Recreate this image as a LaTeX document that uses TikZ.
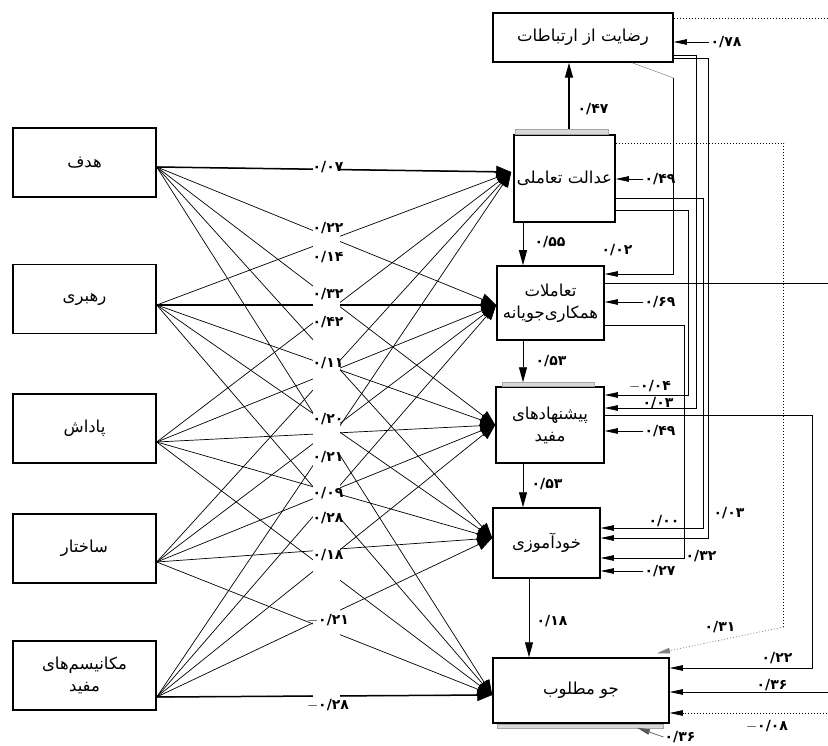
\documentclass[tikz,border=0pt]{standalone}
\usepackage{fontspec}
\newfontfamily\fa[Script=Arabic]{DejaVu Sans}
\TeXXeTstate=1
\usetikzlibrary{arrows.meta}
\newcommand{\fatxt}[1]{\beginR #1\endR}
\newcommand{\menos}{\mbox{$-$}}

\tikzset{
  caja/.style={draw, line width=1.5pt, align=center, inner sep=2pt,
    font=\fa\fontsize{16.5}{22}\selectfont},
  coef/.style={font=\fa\bfseries\fontsize{14}{16}\selectfont, inner sep=1pt},
  abanico/.style={line width=0.7pt, -{Triangle[length=15pt,width=12pt]}},
  flecha/.style={line width=0.7pt, -{Triangle[length=13pt,width=5.5pt]}},
  vert/.style={line width=0.9pt, -{Triangle[length=15pt,width=8pt]}},
  barra/.style={fill=gray!30, draw=gray!70, line width=0.4pt},
  punteado/.style={line width=0.7pt, dash pattern=on 1pt off 2pt}
}

\begin{document}
\begin{tikzpicture}[x=1pt, y=-1pt]
  \useasboundingbox (0,0) rectangle (828,746);
  \clip (0,0) rectangle (828,746);

  % Variables exogenas
  \foreach \nombre/\y/\texto in {hadaf/162.5/{\fatxt{هدف}},
      rahbari/299/{\fatxt{رهبری}}, padash/428.5/{\fatxt{پاداش}},
      sakhtar/548.5/{\fatxt{ساختار}},
      mekanism/675.5/{\fatxt{مکانیسم^^^^200cهای}\\\fatxt{مفید}}} {
    \node[caja, minimum width=143, minimum height=69] (\nombre) at (84.5,\y) {\texto};
  }

  % Variables endogenas
  \node[caja, minimum width=180, minimum height=49] (rezayat) at (583,37.5) {\fatxt{رضایت از ارتباطات}};
  \node[caja, minimum width=101, minimum height=87] (edalat) at (564.5,178.5) {\fatxt{عدالت تعاملی}};
  \node[caja, minimum width=107, minimum height=74] (taamolat) at (550.5,303) {\fatxt{تعاملات}\\\fatxt{همکاری^^^^200cجویانه}};
  \node[caja, minimum width=108, minimum height=76] (pishnahad) at (550,425) {\fatxt{پیشنهادهای}\\\fatxt{مفید}};
  \node[caja, minimum width=107, minimum height=70] (khodamuzi) at (546.5,543) {\fatxt{خودآموزی}};
  \node[caja, minimum width=176, minimum height=65] (jav) at (581,690.5) {\fatxt{جو مطلوب}};

  % Barras grises
  \draw[barra] ([xshift=2pt]edalat.north west) rectangle ([xshift=-8pt,yshift=5pt]edalat.north east);
  \draw[barra] ([xshift=7pt]pishnahad.north west) rectangle ([xshift=-11pt,yshift=4pt]pishnahad.north east);
  \draw[barra] ([xshift=5pt]jav.south west) rectangle ([xshift=-7pt,yshift=-4pt]jav.south east);

  % Puntos de salida y de llegada
  \coordinate (o1) at ([yshift=-4.5pt]hadaf.east);
  \coordinate (o2) at ([yshift=-6pt]rahbari.east);
  \coordinate (o3) at ([yshift=-13.5pt]padash.east);
  \coordinate (o4) at ([yshift=-13.5pt]sakhtar.east);
  \coordinate (o5) at ([yshift=-21.5pt]mekanism.east);
  \coordinate (t1) at ([xshift=-2pt,yshift=6.5pt]edalat.west);
  \coordinate (t2) at ([yshift=-2pt]taamolat.west);
  \coordinate (t3) at (pishnahad.west);
  \coordinate (t4) at ([yshift=5pt]khodamuzi.west);
  \coordinate (t5) at ([yshift=-4.5pt]jav.west);

  % Efectos directos
  \foreach \i in {1,...,5} {
    \foreach \j in {1,...,5} {
      \draw[abanico] (o\i) -- (t\j);
    }
  }
  \foreach \i in {1,2,5} {
    \draw[line width=1.5pt, shorten >=8pt] (o\i) -- (t\i);
  }

  % Franja de los coeficientes
  \fill[white] (313,158) rectangle (340,712);
  \foreach \y/\v [count=\k] in {167/{۰/۰۷}, 228/{۰/۲۲}, 257/{۰/۱۴}, 294/{۰/۳۲},
      322/{۰/۴۲}, 363/{۰/۱۱}, 419/{۰/۲۰}, 457/{۰/۲۱}, 493/{۰/۰۹}, 518/{۰/۲۸},
      555/{۰/۱۸}, 620/{\menos۰/۲۱}, 705/{\menos۰/۲۸}} {
    \node[coef] (c\k) at (328,\y) {\v};
  }

  % Camino vertical
  \coordinate (v0) at ([xshift=4.5pt,yshift=5pt]edalat.north);
  \draw[vert, line width=1.4pt] (v0) -- (v0 |- rezayat.south);
  \coordinate (v1) at ([xshift=-41.5pt]edalat.south);
  \draw[vert] (v1) -- (v1 |- taamolat.north);
  \coordinate (v2) at ([xshift=-27.5pt]taamolat.south);
  \draw[vert] (v2) -- ([yshift=4pt]v2 |- pishnahad.north);
  \coordinate (v3) at ([xshift=-27pt]pishnahad.south);
  \draw[vert] (v3) -- (v3 |- khodamuzi.north);
  \coordinate (v4) at ([xshift=-17.5pt]khodamuzi.south);
  \draw[vert] (v4) -- (v4 |- jav.north);
  \node[coef] (k1) at (593,109) {۰/۴۷};
  \node[coef] (k2) at (550,242) {۰/۵۵};
  \node[coef] (k3) at (551,361) {۰/۵۳};
  \node[coef] (k4) at (547,484) {۰/۵۳};
  \node[coef] (k5) at (552,621) {۰/۱۸};

  % Errores
  \node[coef] (erez) at (726,42) {۰/۷۸};
  \node[coef] (eeda) at (660,179) {۰/۴۹};
  \node[coef] (etaa) at (660,302) {۰/۶۹};
  \node[coef] (epis) at (660,431) {۰/۴۹};
  \node[coef] (ekho) at (660,571) {۰/۲۷};
  \node[coef] (ejav) at (680,737) {۰/۳۶};
  \draw[flecha] (erez.west) -- ([yshift=-4.5pt]rezayat.east);
  \draw[flecha] (eeda.west) -- ([yshift=-0.5pt]edalat.east);
  \draw[flecha] (etaa.west) -- ([yshift=1pt]taamolat.east);
  \draw[flecha] (epis.west) -- ([yshift=-6pt]pishnahad.east);
  \draw[flecha] (ekho.west) -- ([yshift=-28pt]khodamuzi.east);
  \draw[flecha, gray!70!black] (ejav.west) -- ([xshift=56pt,yshift=-4pt]jav.south);

  % Caminos de la derecha
  \draw[gray, line width=0.5pt] ([xshift=49pt]rezayat.south) -- ++(41,15) coordinate (q1);
  \draw[flecha] (q1) |- ([yshift=29pt]taamolat.east);
  \draw[flecha] ([yshift=-17.5pt]rezayat.east) -- ++(23,0) |- ([yshift=17pt]pishnahad.east);
  \draw[flecha] ([yshift=-20.5pt]rezayat.east) -- ++(35,0) |- ([yshift=5pt]khodamuzi.east);
  \draw[flecha] ([yshift=-19.5pt]edalat.east) -- ++(88,0) |- ([yshift=15pt]khodamuzi.east);
  \draw[flecha] ([yshift=-31.5pt]edalat.east) -- ++(73,0) |- ([yshift=30pt]pishnahad.east);
  \draw[flecha] ([yshift=-22pt]taamolat.east) -- ++(80,0) |- ([yshift=-15pt]khodamuzi.east);
  \draw[flecha] ([yshift=20pt]taamolat.east) -- ++(240,0) |- ([yshift=-1.5pt]jav.east);
  \draw[flecha] ([yshift=10pt]pishnahad.east) -- ++(208,0) |- ([yshift=22.5pt]jav.east);
  \draw[punteado] ([yshift=35.5pt]edalat.east) -- ++(168,0) -- ++(0,484) coordinate (q2);
  \draw[punteado, gray, -{Triangle[length=13pt,width=5.5pt]}] (q2) -- ([xshift=76pt,yshift=4pt]jav.north);
  \draw[punteado, -{Triangle[length=13pt,width=5.5pt]}] ([yshift=19.5pt]rezayat.east) -- ++(170,0) |- ([yshift=-22.5pt]jav.east);
  \node[coef] (d1) at (617,250) {۰/۰۲};
  \node[coef] (d2) at (658,403) {۰/۰۳};
  \node[coef] (d3) at (729,513) {۰/۰۳};
  \node[coef] (d4) at (664,521) {۰/۰۰};
  \node[coef] (d5) at (650,386) {\menos۰/۰۴};
  \node[coef] (d6) at (701,556) {۰/۳۲};
  \node[coef] (d7) at (720,627) {۰/۳۱};
  \node[coef] (d8) at (777,658) {۰/۲۲};
  \node[coef] (d9) at (772,685) {۰/۳۶};
  \node[coef] (d10) at (767,726) {\menos۰/۰۸};
\end{tikzpicture}
\end{document}
